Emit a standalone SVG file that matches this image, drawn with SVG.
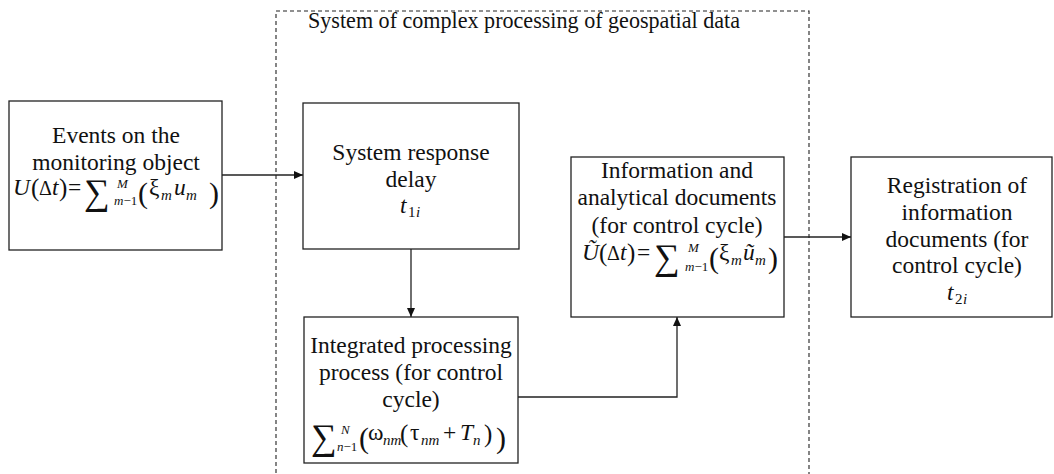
<svg xmlns="http://www.w3.org/2000/svg" width="1054" height="474" viewBox="0 0 1054 474" font-family="'Liberation Serif', 'DejaVu Serif', serif">
<style>
.box{fill:#fff;stroke:#222;stroke-width:1.3}
.t{font-family:'Liberation Serif','DejaVu Serif',serif;font-size:23.5px;fill:#111;text-anchor:middle}
.f{font-family:'Liberation Serif','DejaVu Serif',serif;font-size:23.5px;fill:#111}
.title{font-family:'Liberation Serif','DejaVu Serif',serif;font-size:22.1px;fill:#111}
.i{font-style:italic}
.s{font-size:15px}
.s2{font-size:13px}
.d{font-size:20px}
.big{font-size:36px}
.par{font-size:30px}
.p2{font-size:25px}
.con{fill:none;stroke:#222;stroke-width:1.3}
.dash{fill:none;stroke:#222;stroke-width:1.1;stroke-dasharray:4 3}
</style>
<defs>
<marker id="arr" markerUnits="userSpaceOnUse" markerWidth="10" markerHeight="10" refX="9" refY="5" orient="auto">
<path d="M0,1 L9,5 L0,9 Z" fill="#111"/>
</marker>
</defs>
<rect width="1054" height="474" fill="#fff"/>

<g id="system-boundary">
<path class="dash" d="M276,480 V11 H809 V480"/>
<text class="title" x="308" y="28">System of complex processing of geospatial data</text>
</g>

<g id="connectors">
<path class="con" d="M222,175 H303" marker-end="url(#arr)"/>
<path class="con" d="M411,249 V317" marker-end="url(#arr)"/>
<path class="con" d="M518,397 H677 V317" marker-end="url(#arr)"/>
<path class="con" d="M784,237 H851" marker-end="url(#arr)"/>
</g>

<g id="events">
<rect class="box" x="9" y="101" width="213" height="149"/>
<text class="t" x="116" y="143">Events on the</text>
<text class="t" x="116" y="170">monitoring object</text>
<text class="f">
<tspan class="i" x="13" y="195">U</tspan>
<tspan class="p2" x="31" y="196">(</tspan>
<tspan class="d" x="39" y="195">Δ</tspan>
<tspan class="i" x="52" y="195">t</tspan>
<tspan class="p2" x="59" y="196">)</tspan>
<tspan x="68" y="195">=</tspan>
<tspan class="big" x="84" y="204">∑</tspan>
<tspan class="s2 i" x="117" y="188">M</tspan>
<tspan class="s2" x="114" y="205"><tspan class="i">m</tspan>−1</tspan>
<tspan class="par" x="138" y="203">(</tspan>
<tspan x="149" y="195">ξ</tspan>
<tspan class="s i" x="161" y="200">m</tspan>
<tspan class="i" x="174" y="195">u</tspan>
<tspan class="s i" x="186" y="200">m</tspan>
<tspan class="par" x="209" y="203">)</tspan>
</text>
</g>

<g id="response-delay">
<rect class="box" x="303" y="103" width="216" height="146"/>
<text class="t" x="411" y="160">System response</text>
<text class="t" x="411" y="187">delay</text>
<text class="f"><tspan class="i" x="400" y="213">t</tspan><tspan class="s" x="408" y="217">1</tspan><tspan class="s i" x="416" y="217">i</tspan></text>
</g>

<g id="integrated-processing">
<rect class="box" x="304" y="317" width="214" height="146"/>
<text class="t" x="411" y="353">Integrated processing</text>
<text class="t" x="411" y="380">process (for control</text>
<text class="t" x="411" y="407">cycle)</text>
<text class="f">
<tspan class="big" x="311" y="449">∑</tspan>
<tspan class="s2 i" x="341" y="434">N</tspan>
<tspan class="s2" x="337" y="451"><tspan class="i">n</tspan>−1</tspan>
<tspan class="par" x="359" y="448">(</tspan>
<tspan x="368" y="440">ω</tspan>
<tspan class="s i" x="383" y="445">nm</tspan>
<tspan class="p2" x="400" y="442">(</tspan>
<tspan x="410" y="440">τ</tspan>
<tspan class="s i" x="421" y="445">nm</tspan>
<tspan x="443" y="440">+</tspan>
<tspan class="i" x="460" y="440">T</tspan>
<tspan class="s i" x="473" y="445">n</tspan>
<tspan class="p2" x="484" y="442">)</tspan>
<tspan class="par" x="496" y="448">)</tspan>
</text>
</g>

<g id="analytical-documents">
<rect class="box" x="571" y="157" width="213" height="160"/>
<text class="t" x="677" y="178">Information and</text>
<text class="t" x="677" y="205">analytical documents</text>
<text class="t" x="677" y="233">(for control cycle)</text>
<text class="f">
<tspan class="i" x="582" y="260">Ũ</tspan>
<tspan class="p2" x="599" y="261">(</tspan>
<tspan class="d" x="607" y="260">Δ</tspan>
<tspan class="i" x="620" y="260">t</tspan>
<tspan class="p2" x="627" y="261">)</tspan>
<tspan x="637" y="260">=</tspan>
<tspan class="big" x="654" y="269">∑</tspan>
<tspan class="s2 i" x="688" y="252">M</tspan>
<tspan class="s2" x="685" y="271"><tspan class="i">m</tspan>−1</tspan>
<tspan class="par" x="709" y="268">(</tspan>
<tspan x="719" y="260">ξ</tspan>
<tspan class="s i" x="731" y="265">m</tspan>
<tspan class="i" x="743" y="260">ũ</tspan>
<tspan class="s i" x="755" y="265">m</tspan>
<tspan class="par" x="768" y="268">)</tspan>
</text>
</g>

<g id="registration">
<rect class="box" x="851" y="157" width="201" height="160"/>
<text class="t" x="957" y="193">Registration of</text>
<text class="t" x="957" y="220">information</text>
<text class="t" x="957" y="247">documents (for</text>
<text class="t" x="957" y="273">control cycle)</text>
<text class="f"><tspan class="i" x="947" y="300">t</tspan><tspan class="s" x="955" y="304">2</tspan><tspan class="s i" x="963" y="304">i</tspan></text>
</g>
</svg>
